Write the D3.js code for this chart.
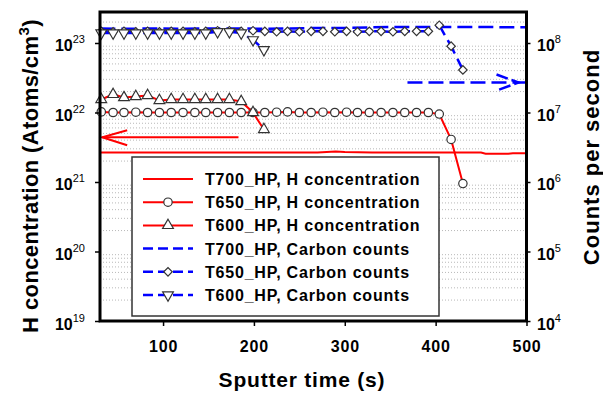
<!DOCTYPE html>
<html>
<head>
<meta charset="utf-8">
<script src="https://cdn.jsdelivr.net/npm/d3@7"></script>
<style>
  body { margin: 0; background: #fff; }
  svg { font-family: "Liberation Sans", Arial, sans-serif; }
</style>
</head>
<body>
<div id="chart"></div>
<script>
/*********************************
   DATA
 *********************************/

// Sputter time samples (s)
const t700 = [31, 60, 90, 120, 150, 180, 210, 240, 270, 290, 300, 330, 360, 390, 420, 450, 455, 480, 485, 500];
const t650 = [32, 45, 57, 70, 83, 96, 109, 122, 135, 147, 160, 173, 186, 199, 212, 225, 237, 250, 263, 276, 289, 302, 314, 327, 340, 353, 366, 379, 392, 404, 417, 430];
const t600 = [32, 45, 57, 70, 83, 96, 109, 122, 135, 147, 160, 173, 186, 199, 211];

// H concentration (atoms/cm3)
const h700 = [2.65e21, 2.65e21, 2.65e21, 2.65e21, 2.65e21, 2.65e21, 2.65e21, 2.65e21, 2.65e21, 2.75e21, 2.7e21, 2.65e21, 2.65e21, 2.65e21, 2.65e21, 2.65e21, 2.55e21, 2.55e21, 2.6e21, 2.6e21];
const h650 = [1.02e22, 1.0e22, 1.0e22, 1.01e22, 1.0e22, 1.0e22, 1.0e22, 1.0e22, 1.0e22, 1.0e22, 1.0e22, 1.0e22, 1.0e22, 1.0e22, 1.0e22, 1.01e22, 1.02e22, 1.0e22, 1.0e22, 1.01e22, 1.0e22, 1.01e22, 1.0e22, 1.0e22, 1.0e22, 1.0e22, 1.0e22, 1.0e22, 1.0e22, 0.95e22, 4.1e21, 9.5e20];
const h600 = [1.54e22, 1.82e22, 1.64e22, 1.7e22, 1.76e22, 1.49e22, 1.54e22, 1.54e22, 1.54e22, 1.54e22, 1.54e22, 1.54e22, 1.44e22, 1.0e22, 5.7e21];

// Carbon counts (counts per second)
const c700 = [1.62e8, 1.6e8, 1.62e8, 1.6e8, 1.62e8, 1.62e8, 1.6e8, 1.62e8, 1.65e8, 1.65e8, 1.65e8, 1.68e8, 1.7e8, 1.7e8, 1.7e8, 1.7e8, 1.7e8, 1.68e8, 1.68e8, 1.68e8];
const c650 = [1.47e8, 1.45e8, 1.47e8, 1.45e8, 1.47e8, 1.45e8, 1.47e8, 1.47e8, 1.45e8, 1.47e8, 1.5e8, 1.5e8, 1.47e8, 1.5e8, 1.47e8, 1.45e8, 1.47e8, 1.45e8, 1.47e8, 1.47e8, 1.45e8, 1.47e8, 1.45e8, 1.47e8, 1.47e8, 1.45e8, 1.47e8, 1.47e8, 1.47e8, 1.8e8, 9.0e7, 4.1e7];
const c600 = [1.39e8, 1.39e8, 1.39e8, 1.39e8, 1.39e8, 1.39e8, 1.39e8, 1.39e8, 1.39e8, 1.39e8, 1.45e8, 1.45e8, 1.39e8, 1.11e8, 8.0e7];

// Annotation arrows
const hArrowX = [183, 33], hArrowY = 4.4e21;
const cArrowX = [369, 500], cArrowY = 2.7e7;

// Ticks
const xTicks = [100, 200, 300, 400, 500];
const hTicks = [1e19, 1e20, 1e21, 1e22, 1e23];
const cTicks = [1e4, 1e5, 1e6, 1e7, 1e8];

// Legend labels
const legendLabels = [
  "T700_HP, H concentration",
  "T650_HP, H concentration",
  "T600_HP, H concentration",
  "T700_HP, Carbon counts",
  "T650_HP, Carbon counts",
  "T600_HP, Carbon counts"
];

/*********************************
   CHART
 *********************************/

const W = 603, H = 397;
const plotL = 100, plotR = 526.5, plotT = 12, plotB = 321;
const red = "#ff0000", blue = "#0000ff";

const svg = d3.select("#chart").append("svg").attr("width", W).attr("height", H);

// Scales
const x = d3.scaleLinear().domain([30.6, 500]).range([plotL, plotR]);
const yH = d3.scaleLog().domain([1e19, Math.pow(10, 23.446)]).range([plotB, plotT]);
const yC = d3.scaleLog().domain([1e4, Math.pow(10, 8.446)]).range([plotB, plotT]);

// Dotted minor grid
const minor = [];
for (let e = 19; e <= 23; e++) for (let m = 2; m <= 9; m++) if (m * Math.pow(10, e) < yH.domain()[1]) minor.push(m * Math.pow(10, e));
svg.append("g").selectAll("line").data(minor).enter().append("line")
  .attr("x1", plotL).attr("x2", plotR)
  .attr("y1", d => yH(d)).attr("y2", d => yH(d))
  .attr("stroke", "#b8b8b8").attr("stroke-width", 1).attr("stroke-dasharray", "1,2");

// Series helpers
function series(t, v, y, color, dash, width) {
  const pts = t.map((d, i) => [d, v[i]]);
  svg.append("path").datum(pts)
    .attr("d", d3.line().x(d => x(d[0])).y(d => y(d[1])))
    .attr("fill", "none").attr("stroke", color).attr("stroke-width", width)
    .attr("stroke-dasharray", dash);
  return pts;
}
function markers(pts, y, type, rot) {
  svg.append("g").selectAll("path").data(pts).enter().append("path")
    .attr("d", d3.symbol().type(type.sym).size(type.size))
    .attr("transform", d => "translate(" + x(d[0]) + "," + y(d[1]) + ") rotate(" + rot + ")")
    .attr("fill", "#fff").attr("stroke", "#333").attr("stroke-width", 1.2);
}
const circ = { sym: d3.symbolCircle, size: 55 };
const tri = { sym: d3.symbolTriangle, size: 50 };
const dia = { sym: d3.symbolSquare, size: 36 };

// H concentration (left axis)
series(t700, h700, yH, red, null, 2);
markers(series(t650, h650, yH, red, null, 2), yH, circ, 0);
markers(series(t600, h600, yH, red, null, 2), yH, tri, 0);

// Carbon counts (right axis)
series(t700, c700, yC, blue, "15,6", 2.5);
markers(series(t650, c650, yC, blue, "15,6", 2.5), yC, dia, 45);
markers(series(t600, c600, yC, blue, "15,6", 2.5), yC, tri, 180);

// Arrows
let ax = x(hArrowX[1]), ay = yH(hArrowY);
svg.append("line").attr("x1", x(hArrowX[0])).attr("x2", ax).attr("y1", ay).attr("y2", ay).attr("stroke", red).attr("stroke-width", 2);
svg.append("path").attr("d", "M" + (ax + 25) + "," + (ay - 7) + "L" + ax + "," + ay + "L" + (ax + 25) + "," + (ay + 8))
  .attr("fill", "none").attr("stroke", red).attr("stroke-width", 2);
let bx = x(cArrowX[1]), by = yC(cArrowY);
svg.append("line").attr("x1", x(cArrowX[0])).attr("x2", bx).attr("y1", by).attr("y2", by).attr("stroke", blue).attr("stroke-width", 2.5).attr("stroke-dasharray", "15,6");
svg.append("path").attr("d", "M" + (bx - 30) + "," + (by - 8) + "L" + (bx - 8) + "," + by + "L" + (bx - 30) + "," + (by + 8))
  .attr("fill", "none").attr("stroke", blue).attr("stroke-width", 2.5).attr("stroke-dasharray", "12,4");

// Axes
const gx = svg.append("g").attr("transform", "translate(0," + plotB + ")")
  .call(d3.axisBottom(x).tickValues(xTicks).tickSize(5).tickFormat(d3.format("d")));
gx.select(".domain").remove();
gx.selectAll("line").attr("stroke", "#000").attr("stroke-width", 1.5);
gx.selectAll("text").attr("y", 31).attr("dy", null).attr("fill", "#000")
  .style("font-size", "16px").style("font-weight", "bold").style("letter-spacing", "0.8px");

function powLabels(g, anchor, dx) {
  g.select(".domain").remove();
  g.selectAll("line").attr("stroke", "#000").attr("stroke-width", 1.5);
  g.selectAll("text").remove();
  g.selectAll(".tick").each(function(d) {
    const t = d3.select(this).append("text").attr("x", dx).attr("y", 8).attr("fill", "#000").attr("text-anchor", anchor);
    t.append("tspan").text("10").style("font-size", "16px").style("font-weight", "bold");
    t.append("tspan").text(Math.round(Math.log10(d))).attr("dy", -8).style("font-size", "11px");
  });
}
powLabels(svg.append("g").attr("transform", "translate(" + plotL + ",0)")
  .call(d3.axisLeft(yH).tickValues(hTicks).tickSize(5)), "end", -15);
powLabels(svg.append("g").attr("transform", "translate(" + plotR + ",0)")
  .call(d3.axisRight(yC).tickValues(cTicks).tickSize(4)), "start", 10.5);

// Frame
svg.append("rect").attr("x", plotL).attr("y", plotT).attr("width", plotR - plotL).attr("height", plotB - plotT)
  .attr("fill", "none").attr("stroke", "#000").attr("stroke-width", 3);

// Axis titles
svg.append("text").attr("x", 302).attr("y", 387).attr("text-anchor", "middle")
  .style("font-size", "21px").style("font-weight", "bold").style("letter-spacing", "0.8px")
  .text("Sputter time (s)");
let lt = svg.append("text").attr("transform", "translate(38,176) rotate(-90)").attr("text-anchor", "middle")
  .style("font-size", "22px").style("font-weight", "bold").style("letter-spacing", "0.4px");
lt.append("tspan").text("H concentration (Atoms/cm");
lt.append("tspan").text("3").attr("dy", -9).style("font-size", "15px");
lt.append("tspan").text(")").attr("dy", 9);
svg.append("text").attr("transform", "translate(599,157) rotate(-90)").attr("text-anchor", "middle")
  .style("font-size", "22px").style("font-weight", "bold").style("letter-spacing", "1px")
  .text("Counts per second");

// Legend
svg.append("rect").attr("x", 132).attr("y", 157).attr("width", 307).attr("height", 159)
  .attr("fill", "#fff").attr("stroke", "#333").attr("stroke-width", 1.5);
const legendStyle = [
  { color: red, dash: null, type: null, rot: 0 },
  { color: red, dash: null, type: circ, rot: 0 },
  { color: red, dash: null, type: tri, rot: 0 },
  { color: blue, dash: "10,5", type: null, rot: 0 },
  { color: blue, dash: "10,5", type: dia, rot: 45 },
  { color: blue, dash: "10,5", type: tri, rot: 180 }
];
legendLabels.forEach((label, i) => {
  const s = legendStyle[i], ly = 179 + i * 23.2;
  svg.append("line").attr("x1", 143).attr("x2", 193).attr("y1", ly).attr("y2", ly)
    .attr("stroke", s.color).attr("stroke-width", i < 3 ? 2 : 2.5).attr("stroke-dasharray", s.dash);
  if (s.type) svg.append("path").attr("d", d3.symbol().type(s.type.sym).size(s.type.size))
    .attr("transform", "translate(168," + ly + ") rotate(" + s.rot + ")")
    .attr("fill", "#fff").attr("stroke", "#333").attr("stroke-width", 1.2);
  svg.append("text").attr("x", 205).attr("y", ly + 6).attr("fill", "#000")
    .style("font-size", "16px").style("font-weight", "bold").style("letter-spacing", "0.8px")
    .text(label);
});
</script>
</body>
</html>
